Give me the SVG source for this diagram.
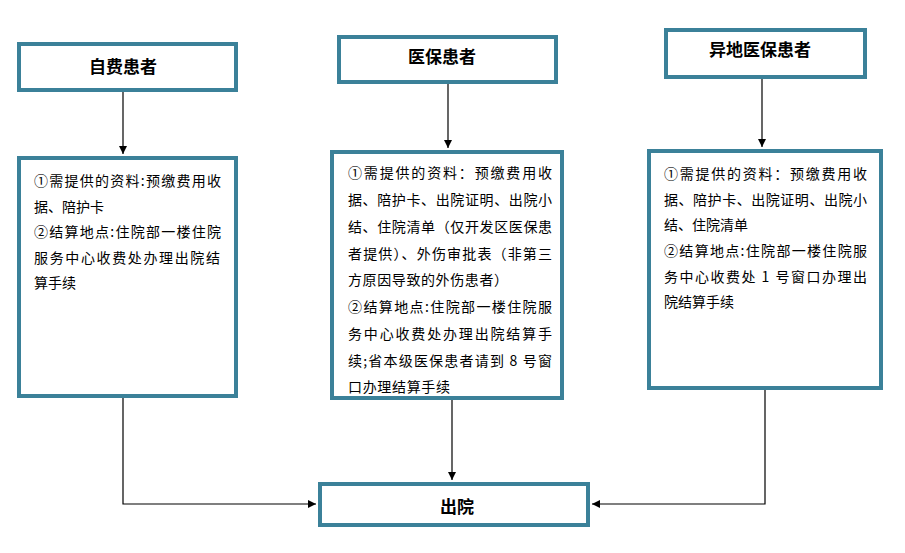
<svg xmlns="http://www.w3.org/2000/svg" width="905" height="553" viewBox="0 0 905 553">
<style>
.box{fill:#fff;stroke:#3b8199;stroke-width:4}
.t{font-family:"Noto Sans CJK SC","Noto Sans",sans-serif;font-size:17px;font-weight:bold;fill:#000;text-anchor:middle}
.c{font-family:"Noto Sans CJK SC","Noto Sans",sans-serif;font-size:14px;fill:#000}
.ln{fill:none;stroke:#000;stroke-width:1.2}
</style>
<defs>
<marker id="ah" markerWidth="8" markerHeight="8" refX="8" refY="4" orient="auto" markerUnits="userSpaceOnUse">
<path d="M0,0 L8,4 L0,8 Z" fill="#000"/>
</marker>
</defs>
<g id="connectors">
<path class="ln" d="M123,92 V154" marker-end="url(#ah)"/>
<path class="ln" d="M448,84 V148" marker-end="url(#ah)"/>
<path class="ln" d="M762,79 V147" marker-end="url(#ah)"/>
<path class="ln" d="M123,398 V504 H316" marker-end="url(#ah)"/>
<path class="ln" d="M452,400 V480" marker-end="url(#ah)"/>
<path class="ln" d="M765,390 V504 H592" marker-end="url(#ah)"/>
</g>
<g id="n1">
<rect class="box" x="19" y="44" width="217" height="46"/>
<text class="t" x="123" y="73">自费患者</text>
</g>
<g id="n2">
<rect class="box" x="339" y="37" width="217" height="45"/>
<text class="t" x="442" y="63">医保患者</text>
</g>
<g id="n3">
<rect class="box" x="666" y="30" width="199" height="47"/>
<text class="t" x="760" y="56">异地医保患者</text>
</g>
<g id="n4">
<rect class="box" x="19" y="158" width="217" height="238"/>
<text class="c" x="34" y="186" textLength="187" lengthAdjust="spacing">①需提供的资料:预缴费用收</text>
<text class="c" x="34" y="211.5">据、陪护卡</text>
<text class="c" x="34" y="237" textLength="187" lengthAdjust="spacing">②结算地点:住院部一楼住院</text>
<text class="c" x="34" y="262.5" textLength="186" lengthAdjust="spacing">服务中心收费处办理出院结</text>
<text class="c" x="34" y="288">算手续</text>
</g>
<g id="n5">
<rect class="box" x="332" y="152" width="230" height="246"/>
<text class="c" x="348" y="178" textLength="204" lengthAdjust="spacing">①需提供的资料：预缴费用收</text>
<text class="c" x="348" y="205" textLength="204" lengthAdjust="spacing">据、陪护卡、出院证明、出院小</text>
<text class="c" x="348" y="232" textLength="204" lengthAdjust="spacing">结、住院清单（仅开发区医保患</text>
<text class="c" x="348" y="258.5" textLength="204" lengthAdjust="spacing">者提供）、外伤审批表（非第三</text>
<text class="c" x="348" y="285" textLength="160" lengthAdjust="spacing">方原因导致的外伤患者）</text>
<text class="c" x="348" y="312" textLength="204" lengthAdjust="spacing">②结算地点:住院部一楼住院服</text>
<text class="c" x="348" y="339" textLength="204" lengthAdjust="spacing">务中心收费处办理出院结算手</text>
<text class="c" x="348" y="366" textLength="204" lengthAdjust="spacing">续;省本级医保患者请到 8 号窗</text>
<text class="c" x="348" y="392" textLength="102" lengthAdjust="spacing">口办理结算手续</text>
</g>
<g id="n6">
<rect class="box" x="649" y="151" width="232" height="237"/>
<text class="c" x="664" y="178.5" textLength="203" lengthAdjust="spacing">①需提供的资料：预缴费用收</text>
<text class="c" x="664" y="204.5" textLength="203" lengthAdjust="spacing">据、陪护卡、出院证明、出院小</text>
<text class="c" x="664" y="230">结、住院清单</text>
<text class="c" x="664" y="256" textLength="203" lengthAdjust="spacing">②结算地点:住院部一楼住院服</text>
<text class="c" x="664" y="281.5" textLength="203" lengthAdjust="spacing">务中心收费处 1 号窗口办理出</text>
<text class="c" x="664" y="307">院结算手续</text>
</g>
<g id="n7">
<rect class="box" x="320" y="484" width="268" height="41"/>
<text class="t" x="457" y="513">出院</text>
</g>
</svg>
